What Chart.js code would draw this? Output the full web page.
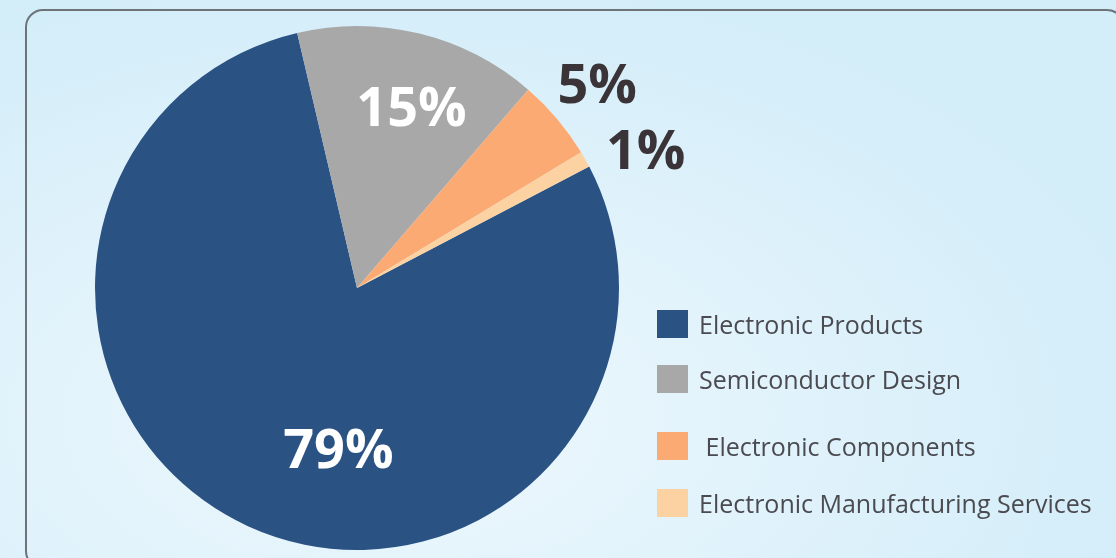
<!DOCTYPE html>
<html>
<head>
<meta charset="utf-8">
<script src="https://cdn.jsdelivr.net/npm/chart.js@4"></script>
<style>
  html, body { margin: 0; padding: 0; }
  body {
    width: 1116px; height: 558px; overflow: hidden; position: relative;
    background: radial-gradient(ellipse 70% 80% at 35% 75%, #eef8fd 0%, #e2f3fb 45%, #d3edf9 100%);
  }
  #frame {
    position: absolute; left: 25px; top: 9px; width: 1100px; height: 560px;
    border: 2px solid #6d7479; border-radius: 18px; box-sizing: border-box;
  }
  #wrap { position: absolute; left: 0; top: 0; width: 1116px; height: 558px; }
</style>
</head>
<body>
<div id="frame"></div>
<div id="wrap"><canvas id="pieChart"></canvas></div>
<script>
const categories = ['Electronic Products', 'Semiconductor Design', ' Electronic Components', 'Electronic Manufacturing Services'];
const shares = [79, 15, 5, 1];
const sliceColors = ['#2a5384', '#a8a8a8', '#fbaa73', '#fdd2a2'];

// label placement: fraction of radius, angle nudge (deg), colour
const labelRadius = [0.62, 0.72, 1.2, 1.22];
const labelNudge = [-18, 3, 0, 4];
const labelColors = ['#ffffff', '#ffffff', '#3a3438', '#3a3438'];

// legend rows (y of box top)
const legendRows = [310, 365, 432, 489];

const labelPlugin = {
    id: 'pctLabels',
    afterDatasetsDraw(chart) {
        const ctx = chart.ctx;
        const arcs = chart.getDatasetMeta(0).data;
        ctx.save();
        ctx.font = 'bold 54px "Open Sans"';
        ctx.textAlign = 'center';
        ctx.textBaseline = 'middle';
        arcs.forEach((arc, i) => {
            const p = arc.getProps(['x', 'y', 'startAngle', 'endAngle', 'outerRadius'], true);
            const mid = (p.startAngle + p.endAngle) / 2 + labelNudge[i] * Math.PI / 180;
            const r = p.outerRadius * labelRadius[i];
            ctx.fillStyle = labelColors[i];
            ctx.fillText(shares[i] + '%', p.x + Math.cos(mid) * r, p.y + Math.sin(mid) * r + 3);
        });
        ctx.restore();
    }
};

const legendPlugin = {
    id: 'sideLegend',
    afterDraw(chart) {
        const ctx = chart.ctx;
        ctx.save();
        ctx.font = '25px "Open Sans"';
        ctx.textBaseline = 'middle';
        categories.forEach((name, i) => {
            const y = legendRows[i];
            ctx.fillStyle = sliceColors[i];
            ctx.fillRect(657, y, 31, 28);
            ctx.fillStyle = '#4a4a50';
            ctx.fillText(name, 699, y + 17);
        });
        ctx.restore();
    }
};

const chartConfig = {
    type: 'pie',
    data: {
        labels: categories,
        datasets: [{
            data: shares,
            backgroundColor: sliceColors,
            borderWidth: 0
        }]
    },
    options: {
        responsive: true,
        maintainAspectRatio: false,
        animation: false,
        rotation: 62.4,
        layout: { padding: { left: 95, right: 497, top: 26, bottom: 8 } },
        plugins: {
            legend: { display: false },
            tooltip: { enabled: false }
        }
    },
    plugins: [labelPlugin, legendPlugin]
};

new Chart(document.getElementById('pieChart'), chartConfig);
</script>
</body>
</html>
